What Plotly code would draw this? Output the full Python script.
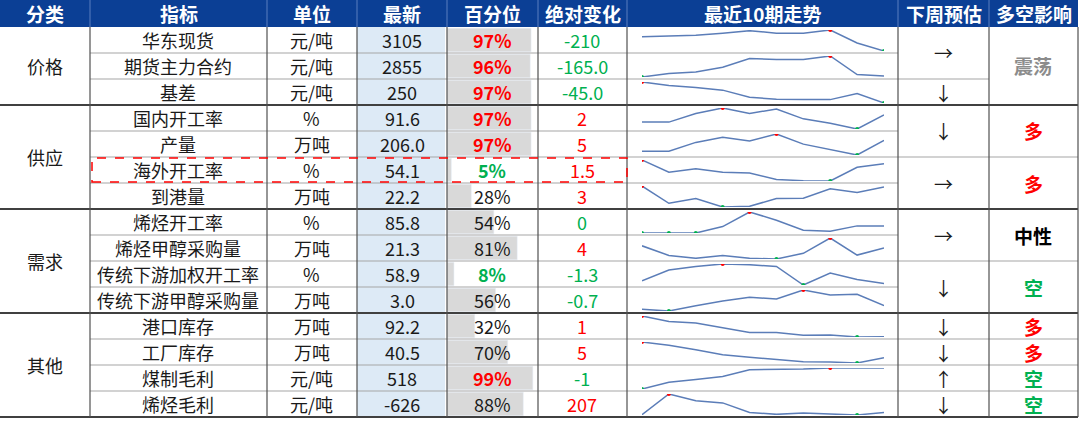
import plotly.graph_objects as go

W, H = 1080, 421

# dados da tabela
grupos = ['价格', '供应', '需求', '其他']
grupo_linhas = [(0, 2), (3, 6), (7, 10), (11, 14)]
indicadores = ['华东现货', '期货主力合约', '基差', '国内开工率', '产量', '海外开工率', '到港量',
               '烯烃开工率', '烯烃甲醇采购量', '传统下游加权开工率', '传统下游甲醇采购量',
               '港口库存', '工厂库存', '煤制毛利', '烯烃毛利']
unidades = ['元/吨', '元/吨', '元/吨', '%', '万吨', '%', '万吨', '%', '万吨', '%', '万吨',
            '万吨', '万吨', '元/吨', '元/吨']
ultimo = ['3105', '2855', '250', '91.6', '206.0', '54.1', '22.2', '85.8', '21.3', '58.9', '3.0',
          '92.2', '40.5', '518', '-626']
percentil = [97, 96, 97, 97, 97, 5, 28, 54, 81, 8, 56, 32, 70, 99, 88]
variacao = ['-210', '-165.0', '-45.0', '2', '5', '1.5', '3', '0', '4', '-1.3', '-0.7',
            '1', '5', '-1', '207']
var_cor = ['g', 'g', 'g', 'r', 'r', 'r', 'r', 'g', 'r', 'g', 'g', 'r', 'r', 'g', 'r']
previsao = [('→', 0, 1), ('↓', 2, 2), ('↓', 3, 4), ('→', 5, 6), ('→', 7, 8), ('↓', 9, 10),
            ('↓', 11, 11), ('↓', 12, 12), ('↑', 13, 13), ('↓', 14, 14)]
impacto = [('震荡', 0, 2), ('多', 3, 4), ('多', 5, 6), ('中性', 7, 8), ('空', 9, 10),
           ('多', 11, 11), ('多', 12, 12), ('空', 13, 13), ('空', 14, 14)]
impacto_cor = {'震荡': '#8c8c8c', '多': '#ff0000', '中性': '#000000', '空': '#00b050'}

# últimos 10 períodos
tendencias = [
    [50, 52, 54, 60, 67, 60, 60, 69, 32, 9],
    [10, 20, 24, 38, 63, 60, 60, 70, 17, 13],
    [70, 60, 54, 46, 25, 19, 18, 18, 36, 8],
    [26, 26, 50, 65, 50, 62, 35, 23, 7, 46],
    [20, 20, 45, 60, 49, 69, 40, 25, 9, 51],
    [67, 32, 42, 32, 30, 11, 8, 7, 46, 56],
    [69, 18, 32, 7, 9, 32, 33, 61, 50, 66],
    [7, 7, 7, 25, 66, 43, 15, 12, 27, 27],
    [47, 20, 12, 20, 12, 10, 26, 69, 21, 41],
    [19, 50, 60, 67, 65, 60, 7, 41, 23, 11],
    [10, 5, 21, 35, 46, 41, 68, 53, 55, 21],
    [68, 52, 47, 34, 19, 19, 11, 12, 6, 7],
    [70, 60, 47, 32, 24, 18, 11, 10, 7, 23],
    [7, 27, 35, 44, 64, 64, 66, 69, 68.8, 68.8],
    [8, 73, 52, 45, 15, 9, 13, 10, 7, 15],
]

cabecalho = ['分类', '指标', '单位', '最新', '百分位', '绝对变化', '最近10期走势', '下周预估', '多空影响']
col_x = [0, 90, 267, 357, 447, 538, 627, 898, 989, 1078]
TOP, RH = 27, 26
FONT = 'Noto Sans CJK SC'
n = len(indicadores)


def px(x):
    return x / W


def py(y):
    return 1 - y / H


def row_y(i):
    return TOP + i * RH


fig = go.Figure()
shapes, anns = [], []

# cabeçalho
shapes.append(dict(type='rect', xref='paper', yref='paper', x0=0, x1=px(col_x[-1]), y0=py(TOP), y1=1,
                   fillcolor='#0b3f95', line_width=0, layer='below'))
for k, t in enumerate(cabecalho):
    anns.append(dict(x=px((col_x[k] + col_x[k + 1]) / 2), y=py(TOP / 2), text=t,
                     font=dict(color='white', size=19, family=FONT, weight='bold')))
    if 0 < k:
        shapes.append(dict(type='line', xref='paper', yref='paper', x0=px(col_x[k]), x1=px(col_x[k]),
                           y0=py(0), y1=py(TOP), line=dict(color='#5a7fbf', width=1)))

# coluna "最新" com fundo azul claro
shapes.append(dict(type='rect', xref='paper', yref='paper', x0=px(col_x[3]), x1=px(col_x[4] - 2),
                   y0=py(row_y(n)), y1=py(TOP), fillcolor='#ddeaf6', line_width=0, layer='below'))

# barras do percentil
fig.add_trace(go.Bar(x=percentil, y=list(range(n)), orientation='h', marker_color='#d9d9d9',
                     width=0.9, xaxis='x2', yaxis='y2', hoverinfo='skip', showlegend=False))

# linhas horizontais
thin = '#a6a6a6'
for i in range(1, n):
    y = row_y(i)
    if any(i == a for a, b in grupo_linhas):
        continue
    shapes.append(dict(type='line', xref='paper', yref='paper', x0=px(col_x[1]), x1=px(col_x[7]),
                       y0=py(y), y1=py(y), line=dict(color=thin, width=1.2)))
for label, a, b in previsao:
    if a > 0 and not any(a == g for g, _ in grupo_linhas):
        shapes.append(dict(type='line', xref='paper', yref='paper', x0=px(col_x[7]), x1=px(col_x[8]),
                           y0=py(row_y(a)), y1=py(row_y(a)), line=dict(color=thin, width=1.2)))
for label, a, b in impacto:
    if a > 0 and not any(a == g for g, _ in grupo_linhas):
        shapes.append(dict(type='line', xref='paper', yref='paper', x0=px(col_x[8]), x1=px(col_x[9]),
                           y0=py(row_y(a)), y1=py(row_y(a)), line=dict(color=thin, width=1.2)))
for a, b in grupo_linhas[1:]:
    shapes.append(dict(type='line', xref='paper', yref='paper', x0=0, x1=px(col_x[-1]),
                       y0=py(row_y(a)), y1=py(row_y(a)), line=dict(color='#404040', width=2)))
shapes.append(dict(type='line', xref='paper', yref='paper', x0=0, x1=px(col_x[-1]),
                   y0=py(row_y(n)), y1=py(row_y(n)), line=dict(color='#404040', width=2)))
for x in col_x[1:]:
    shapes.append(dict(type='line', xref='paper', yref='paper', x0=px(x), x1=px(x),
                       y0=py(TOP), y1=py(row_y(n)), line=dict(color='#505050', width=1.2)))

# textos
FS = 18
f = dict(family=FONT, size=FS, color='#1a1a1a')
for g, (a, b) in zip(grupos, grupo_linhas):
    anns.append(dict(x=px(45), y=py((row_y(a) + row_y(b + 1)) / 2), text=g, font=f))
for i in range(n):
    yc = py(row_y(i) + RH / 2)
    anns.append(dict(x=px(178), y=yc, text=indicadores[i], font=f))
    anns.append(dict(x=px(312), y=yc, text=unidades[i], font=f))
    anns.append(dict(x=px(402), y=yc, text=ultimo[i], font=f))
    p = percentil[i]
    if p >= 90:
        pf = dict(family=FONT, size=FS, color='#ff0000', weight='bold')
    elif p <= 10:
        pf = dict(family=FONT, size=FS, color='#00b050', weight='bold')
    else:
        pf = f
    anns.append(dict(x=px(492), y=yc, text=f'{p}%', font=pf))
    anns.append(dict(x=px(582), y=yc, text=variacao[i],
                     font=dict(family=FONT, size=FS, color='#ff0000' if var_cor[i] == 'r' else '#00b050')))
for t, a, b in previsao:
    anns.append(dict(x=px(943), y=py((row_y(a) + row_y(b + 1)) / 2), text=t,
                     font=dict(family=FONT, size=19, color='#1a1a1a')))
for t, a, b in impacto:
    anns.append(dict(x=px(1033), y=py((row_y(a) + row_y(b + 1)) / 2), text=t,
                     font=dict(family=FONT, size=19, color=impacto_cor[t], weight='bold')))

# destaque tracejado
shapes.append(dict(type='rect', xref='paper', yref='paper', x0=px(92), x1=px(627),
                   y0=py(row_y(6) - 1), y1=py(row_y(5) + 1), line=dict(color='#ff0000', width=1.5, dash='dash')))

# sparklines
layout_axes = {}
for i, vals in enumerate(tendencias):
    k = i + 3
    xs = list(range(1, 11))
    vmax, vmin = max(vals), min(vals)
    fig.add_trace(go.Scatter(x=xs, y=vals, mode='lines', line=dict(color='#5b7db8', width=1.5),
                             xaxis=f'x{k}', yaxis=f'y{k}', hoverinfo='skip', showlegend=False))
    fig.add_trace(go.Scatter(x=[x for x, v in zip(xs, vals) if v == vmax], y=[vmax] * vals.count(vmax),
                             mode='markers', marker=dict(color='#ff0000', size=4),
                             xaxis=f'x{k}', yaxis=f'y{k}', hoverinfo='skip', showlegend=False))
    fig.add_trace(go.Scatter(x=[x for x, v in zip(xs, vals) if v == vmin], y=[vmin] * vals.count(vmin),
                             mode='markers', marker=dict(color='#00b050', size=4),
                             xaxis=f'x{k}', yaxis=f'y{k}', hoverinfo='skip', showlegend=False))
    layout_axes[f'xaxis{k}'] = dict(domain=[px(642), px(884)], range=[1, 10], visible=False,
                                    anchor=f'y{k}', fixedrange=True)
    layout_axes[f'yaxis{k}'] = dict(domain=[py(row_y(i + 1) - 2), py(row_y(i) + 3)],
                                    range=[vmin, vmax], visible=False, anchor=f'x{k}', fixedrange=True)

fig.update_layout(
    width=W, height=H, margin=dict(l=0, r=0, t=0, b=0),
    plot_bgcolor='rgba(0,0,0,0)', paper_bgcolor='white',
    xaxis=dict(visible=False), yaxis=dict(visible=False),
    xaxis2=dict(domain=[px(col_x[4]), px(col_x[5])], range=[0, 105], visible=False, anchor='y2'),
    yaxis2=dict(domain=[py(row_y(n)), py(TOP)], range=[n - 0.5, -0.5], visible=False, anchor='x2'),
    shapes=shapes,
    annotations=[dict(a, xref='paper', yref='paper', showarrow=False, xanchor='center', yanchor='middle')
                 for a in anns],
    **layout_axes,
)

fig.write_html('out.html', config={'displayModeBar': False},
               post_script="document.body.style.margin='0';document.body.style.overflow='hidden';")
